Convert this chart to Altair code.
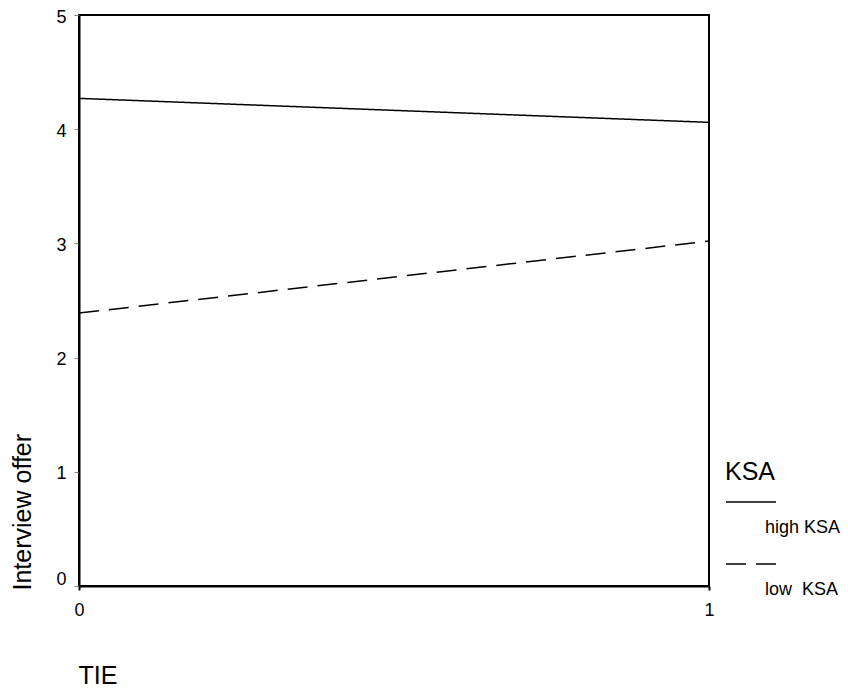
import altair as alt
import pandas as pd

# Data
tie = [0, 1]
ksa_groups = ["high KSA", "low KSA"]
high_ksa = [4.27, 4.06]
low_ksa = [2.39, 3.02]

rows = []
for g, vals in zip(ksa_groups, [high_ksa, low_ksa]):
    for t, v in zip(tie, vals):
        rows.append({"TIE": t, "value": v, "KSA": g})
df = pd.DataFrame(rows)

FONT = "Liberation Sans"

chart = alt.Chart(df).mark_line(color="black", strokeWidth=1.5).encode(
    x=alt.X(
        "TIE:Q",
        scale=alt.Scale(domain=[0, 1], nice=False, zero=False),
        axis=alt.Axis(
            values=[0, 1], title="TIE", grid=False, format="d", labelFlush=False,
            domainColor="black", domainWidth=2,
            tickColor="black", tickSize=4, tickWidth=2,
            labelFont=FONT, labelFontSize=18, labelColor="black", labelPadding=11,
            titleFont=FONT, titleFontSize=25, titleFontWeight="normal", titleColor="black",
            titleAnchor="start", titleAlign="left", titleBaseline="alphabetic",
            titleX=-1, titleY=97,
        ),
    ),
    y=alt.Y(
        "value:Q",
        scale=alt.Scale(domain=[0, 5], nice=False),
        axis=alt.Axis(
            values=[0, 1, 2, 3, 4, 5], title="Interview offer", grid=False, format="d",
            labelFlush=False,
            domainColor="black", domainWidth=2,
            tickColor="#888888", tickSize=5, tickWidth=1,
            labelFont=FONT, labelFontSize=18, labelColor="black", labelPadding=8,
            labelBaseline={"condition": {"test": "datum.value == 0", "value": "alphabetic"}, "value": "middle"},
            labelOffset={"condition": {"test": "datum.value == 0", "value": -2}, "value": 2},
            titleFont=FONT, titleFontSize=25, titleFontWeight="normal", titleColor="black",
            titleAngle=270, titleAlign="left", titleBaseline="alphabetic",
            titleX=-49, titleY=575,
        ),
    ),
    strokeDash=alt.StrokeDash(
        "KSA:N",
        scale=alt.Scale(domain=ksa_groups, range=[[1, 0], [20, 10]]),
        legend=alt.Legend(
            orient="none", legendX=646, legendY=445,
            title="KSA", titleFont=FONT, titleFontSize=25, titleFontWeight="normal",
            titleColor="black", titlePadding=alt.expr("-9"),
            symbolType="stroke", symbolSize=2500, symbolStrokeWidth=1.5,
            symbolStrokeColor="black",
            labelFont=FONT, labelFontSize=18, labelColor="black",
            labelOffset=alt.expr("-12"), labelBaseline="line-top", labelLimit=300,
            labelExpr="datum.label == 'low KSA' ? 'low\u00a0 KSA' : datum.label",
            rowPadding=1,
        ),
    ),
).properties(
    width=630,
    height=571,
    background="white",
    autosize=alt.AutoSizeParams(type="none"),
    padding={"left": 71, "top": 7, "right": 131, "bottom": 102},
).configure(
    view=alt.ViewConfig(stroke="black", strokeWidth=2),
    style={"guide-label": {"lineHeight": 52}},
)

chart.save("out.html", embed_options={"renderer": "svg", "actions": False})
